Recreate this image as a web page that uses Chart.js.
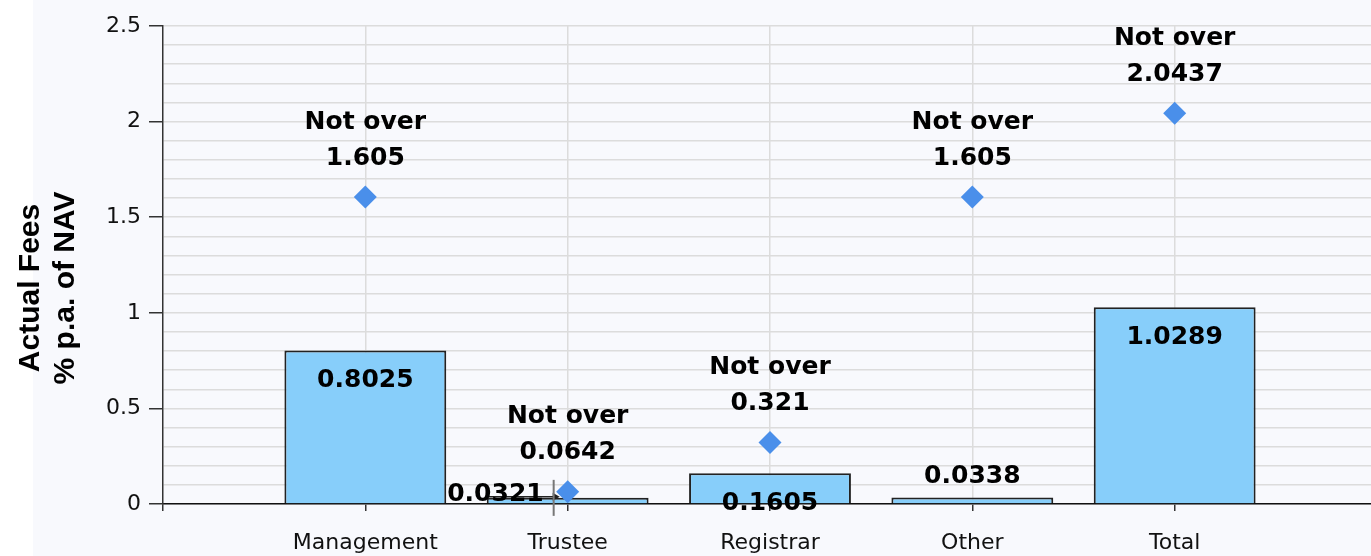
<!DOCTYPE html>
<html>
<head>
<meta charset="utf-8">
<title>Actual Fees</title>
<script src="https://cdn.jsdelivr.net/npm/chart.js@4.4.1/dist/chart.umd.min.js"></script>
<style>
    html, body { margin: 0; padding: 0; background: #fff; overflow: hidden; width: 1371px; height: 556px; }
    #wrap { width: 1377px; height: 556px; }
</style>
</head>
<body>
<div id="wrap"><canvas id="feeChart" width="1377" height="556"></canvas></div>
<script>
// ========== DATA ==========
const categories = ['', 'Management', 'Trustee', 'Registrar', 'Other', 'Total', ''];
const actualFees = [null, 0.8025, 0.0321, 0.1605, 0.0338, 1.0289, null];
const maxFees = [null, 1.605, 0.0642, 0.321, 1.605, 2.0437, null];
const barLabelPlacement = [null, 'inside', 'left', 'inside', 'above', 'inside', null];
const yTickLabels = ['0', '0.5', '1', '1.5', '2', '2.5'];
const yTitle = ['Actual Fees', '% p.a. of NAV'];
const maxPrefix = 'Not over';
// ==========================

Chart.defaults.font.family = '"DejaVu Sans", sans-serif';

function majorIndex(v) {
    const k = Math.round(v * 2);
    return Math.abs(v * 2 - k) < 1e-6 ? k : -1;
}

// light panel behind the chart
const backgroundPlugin = {
    id: 'panelBg',
    beforeDraw(chart) {
        const ctx = chart.ctx;
        ctx.save();
        ctx.fillStyle = '#ffffff';
        ctx.fillRect(0, 0, chart.width, chart.height);
        ctx.fillStyle = '#f8f9fd';
        ctx.fillRect(33, 0, chart.width - 33, chart.height);
        ctx.restore();
    }
};

// rotated two-line y title
const yTitlePlugin = {
    id: 'yTitle',
    afterDraw(chart) {
        const ctx = chart.ctx;
        ctx.save();
        ctx.translate(31, 288);
        ctx.rotate(-Math.PI / 2);
        ctx.fillStyle = '#000';
        ctx.font = 'bold 30px "Liberation Sans", Arial, sans-serif';
        ctx.textAlign = 'center';
        ctx.textBaseline = 'middle';
        yTitle.forEach((line, i) => ctx.fillText(line, 0, i * 35));
        ctx.restore();
    }
};

// value labels on bars and diamonds
const labelPlugin = {
    id: 'feeLabels',
    afterDatasetsDraw(chart) {
        const { ctx, scales: { x, y } } = chart;
        ctx.save();
        ctx.fillStyle = '#000';
        ctx.font = 'bold 25px "DejaVu Sans", sans-serif';
        ctx.textBaseline = 'middle';

        maxFees.forEach((v, i) => {
            if (v === null) return;
            const px = x.getPixelForValue(i);
            const py = y.getPixelForValue(v);
            ctx.textAlign = 'center';
            ctx.fillText(String(v), px, py - 39);
            ctx.fillText(maxPrefix, px, py - 75);
        });

        actualFees.forEach((v, i) => {
            if (v === null) return;
            const px = x.getPixelForValue(i);
            const py = y.getPixelForValue(v);
            const mode = barLabelPlacement[i];
            if (mode === 'inside') {
                ctx.textAlign = 'center';
                ctx.fillText(String(v), px, py + 30);
            } else if (mode === 'above') {
                ctx.textAlign = 'center';
                ctx.fillText(String(v), px, py - 21);
            } else if (mode === 'left') {
                // leader arrow + marker line
                ctx.save();
                ctx.strokeStyle = '#222';
                ctx.lineWidth = 1.5;
                ctx.beginPath();
                ctx.moveTo(px - 80, py - 1);
                ctx.lineTo(px - 12, py - 1);
                ctx.stroke();
                ctx.fillStyle = '#222';
                ctx.beginPath();
                ctx.moveTo(px - 8, py - 1);
                ctx.lineTo(px - 15, py - 5);
                ctx.lineTo(px - 15, py + 3);
                ctx.closePath();
                ctx.fill();
                ctx.strokeStyle = '#777';
                ctx.lineWidth = 2;
                ctx.beginPath();
                ctx.moveTo(px - 14, py - 18);
                ctx.lineTo(px - 14, py + 18);
                ctx.stroke();
                ctx.restore();
                ctx.textAlign = 'right';
                ctx.fillText(String(v), px - 24, py - 3);
            }
        });
        ctx.restore();
    }
};

const ctx = document.getElementById('feeChart').getContext('2d');
new Chart(ctx, {
    data: {
        labels: categories,
        datasets: [
            {
                type: 'line',
                label: 'Maximum',
                data: maxFees,
                showLine: false,
                pointStyle: 'rectRot',
                pointRadius: 11.5,
                pointHoverRadius: 11.5,
                backgroundColor: '#4a8fea',
                borderColor: '#4a8fea',
                borderWidth: 0,
                order: 0
            },
            {
                type: 'bar',
                label: 'Actual',
                data: actualFees,
                backgroundColor: '#87cefa',
                borderColor: '#222',
                borderWidth: 2,
                barPercentage: 0.8,
                categoryPercentage: 1,
                order: 1
            }
        ]
    },
    options: {
        responsive: false,
        animation: false,
        devicePixelRatio: 1,
        layout: {
            autoPadding: false,
            padding: { top: 26, right: 0, bottom: 0, left: 0 }
        },
        plugins: {
            legend: { display: false },
            tooltip: { enabled: false }
        },
        scales: {
            x: {
                type: 'category',
                offset: false,
                afterFit: (s) => {
                    s.height = 52;
                    s.paddingLeft = 0;
                    s.paddingRight = 0;
                },
                border: { color: '#111', width: 1.5 },
                grid: {
                    offset: false,
                    color: (c) => (c.index > 0 && categories[c.index]) ? '#dcdcdc' : 'rgba(0,0,0,0)',
                    lineWidth: 1.5,
                    tickLength: 7,
                    tickColor: '#333',
                    tickWidth: 1.5
                },
                ticks: {
                    autoSkip: false,
                    maxRotation: 0,
                    padding: 19,
                    color: '#111',
                    font: { size: 22 }
                }
            },
            y: {
                min: 0,
                max: 2.5,
                afterFit: (s) => { s.width = 163; },
                border: { color: '#333', width: 1.5 },
                grid: {
                    color: '#dcdcdc',
                    lineWidth: 1.5,
                    tickLength: 14,
                    tickWidth: 1.5,
                    tickColor: (c) => majorIndex(c.tick.value) >= 0 ? '#333' : 'rgba(0,0,0,0)'
                },
                ticks: {
                    stepSize: 0.1,
                    maxTicksLimit: 100,
                    autoSkip: false,
                    padding: 8,
                    color: '#111',
                    font: { size: 22 },
                    callback: (v) => {
                        const k = majorIndex(v);
                        return k >= 0 ? yTickLabels[k] : '';
                    }
                }
            }
        }
    },
    plugins: [backgroundPlugin, yTitlePlugin, labelPlugin]
});
</script>
</body>
</html>
